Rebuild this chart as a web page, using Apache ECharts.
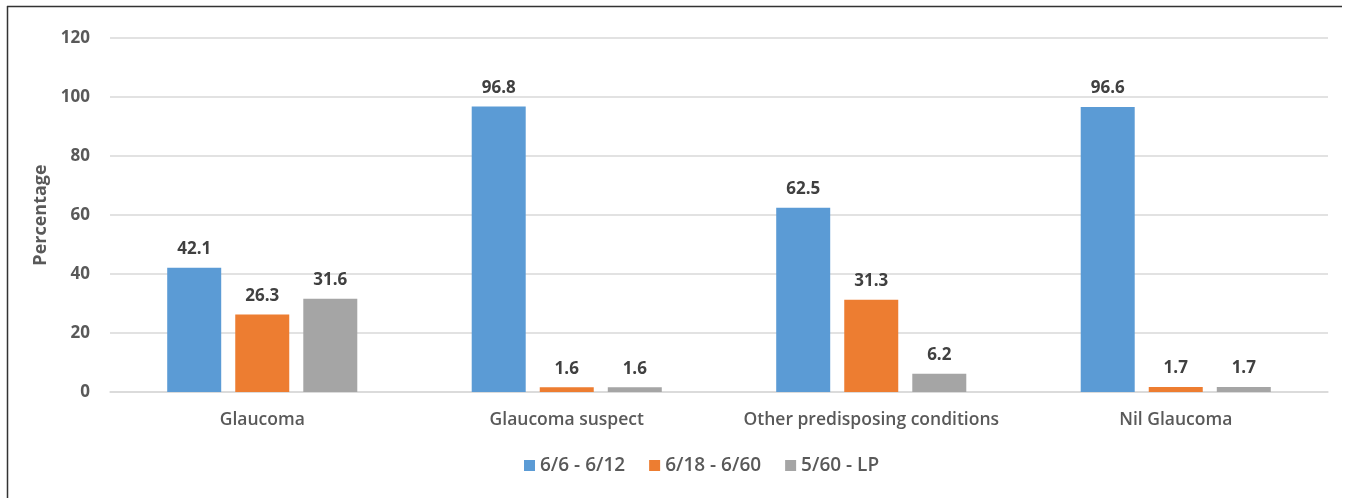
<!DOCTYPE html>
<html>
<head>
<meta charset="utf-8">
<script src="https://cdn.jsdelivr.net/npm/echarts@6/dist/echarts.min.js"></script>
<style>
  html, body { margin: 0; padding: 0; background: #fff; }
  #chart { width: 1351px; height: 498px; }
</style>
</head>
<body>
<div id="chart"></div>
<script>
// Visual acuity distribution by diagnosis group
const categories = ['Glaucoma', 'Glaucoma suspect', 'Other predisposing conditions', 'Nil Glaucoma'];
const seriesNames = ['6/6 - 6/12', '6/18 - 6/60', '5/60 - LP'];
const acuityGood = [42.1, 96.8, 62.5, 96.6];
const acuityModerate = [26.3, 1.6, 31.3, 1.7];
const acuityPoor = [31.6, 1.6, 6.2, 1.7];
const yTicks = { min: 0, max: 120, interval: 20 };

const colors = ['#5B9BD5', '#ED7D31', '#A5A5A5'];
const font = '"Open Sans", "Noto Sans", sans-serif';

function makeSeries(name, data, color) {
  return {
    name: name,
    type: 'bar',
    data: data,
    barWidth: 54,
    barGap: '26%',
    itemStyle: { color: color },
    label: {
      show: true,
      position: 'top',
      distance: 10,
      color: '#404040',
      fontFamily: font,
      fontWeight: 'bold',
      fontSize: 17
    }
  };
}

const chart = echarts.init(document.getElementById('chart'));
chart.setOption({
  animation: false,
  backgroundColor: '#fff',
  color: colors,
  graphic: [
    { type: 'line', shape: { x1: 7, y1: 6.5, x2: 1342, y2: 6.5 }, style: { stroke: '#333', lineWidth: 1.5 } },
    { type: 'line', shape: { x1: 7.5, y1: 6, x2: 7.5, y2: 498 }, style: { stroke: '#333', lineWidth: 1.5 } }
  ],
  grid: { left: 110, right: 23, top: 38, bottom: 106, containLabel: false },
  legend: {
    bottom: 18,
    left: 519,
    itemWidth: 11,
    itemHeight: 11,
    itemGap: 24,
    icon: 'rect',
    textStyle: { color: '#595959', fontFamily: font, fontSize: 19, fontWeight: 600 },
    data: seriesNames
  },
  xAxis: {
    type: 'category',
    data: categories,
    axisLine: { lineStyle: { color: '#D9D9D9', width: 1.5 } },
    axisTick: { show: false },
    axisLabel: { color: '#595959', fontFamily: font, fontSize: 17.5, fontWeight: 600, margin: 19, interval: 0 }
  },
  yAxis: {
    type: 'value',
    min: yTicks.min,
    max: yTicks.max,
    interval: yTicks.interval,
    name: 'Percentage',
    nameLocation: 'middle',
    nameGap: 56,
    nameTextStyle: { color: '#595959', fontFamily: font, fontSize: 18, fontWeight: 'bold' },
    axisLine: { show: false },
    axisTick: { show: false },
    splitLine: { lineStyle: { color: '#D9D9D9', width: 1.5 } },
    axisLabel: { color: '#595959', fontFamily: font, fontSize: 17, fontWeight: 'bold', margin: 20 }
  },
  series: [
    makeSeries(seriesNames[0], acuityGood, colors[0]),
    makeSeries(seriesNames[1], acuityModerate, colors[1]),
    makeSeries(seriesNames[2], acuityPoor, colors[2])
  ]
});
</script>
</body>
</html>
